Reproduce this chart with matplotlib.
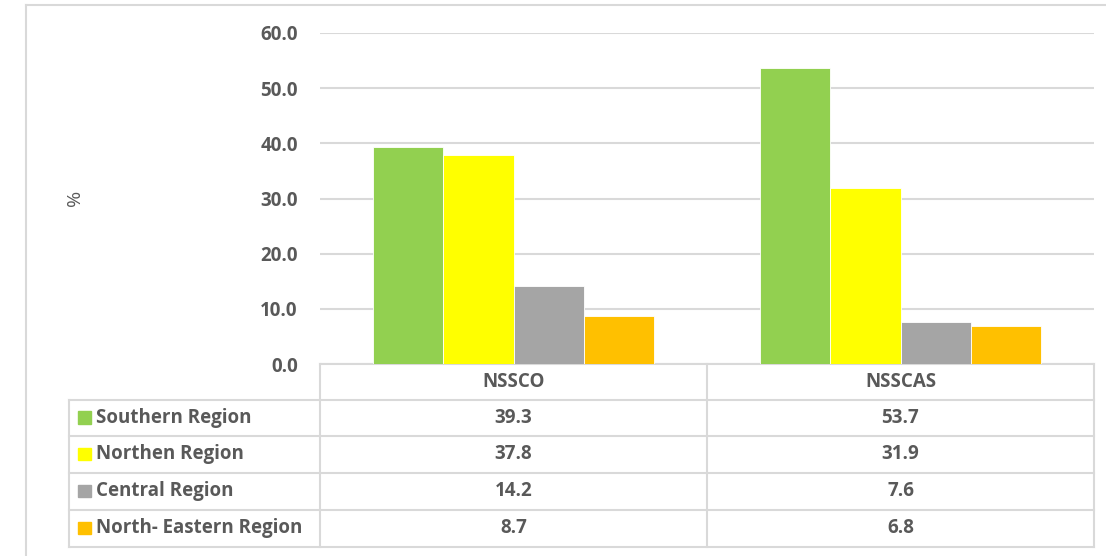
import numpy as np
import matplotlib.pyplot as plt

# data
exams = ["NSSCO", "NSSCAS"]
regions = ["Southern Region", "Northen Region", "Central Region", "North- Eastern Region"]
southern = [39.3, 53.7]
northern = [37.8, 31.9]
central = [14.2, 7.6]
north_eastern = [8.7, 6.8]
yticks = [0, 10, 20, 30, 40, 50, 60]

colors = ["#92D050", "#FFFF00", "#A5A5A5", "#FFC000"]
txt = "#595959"
grid = "#D9D9D9"
plt.rcParams["font.family"] = ["Open Sans", "DejaVu Sans"]
fs = 13.5

W, H = 1106, 556
fig = plt.figure(figsize=(W / 100, H / 100), dpi=100)

# overlay in pixel coordinates for the frame and the data table
bg = fig.add_axes([0, 0, 1, 1])
bg.set_xlim(0, W)
bg.set_ylim(H, 0)
bg.axis("off")

left, right, top, zero = 320, 1094, 33, 364
ax = fig.add_axes([left / W, 1 - zero / H, (right - left) / W, (zero - top) / H])

series = [southern, northern, central, north_eastern]
x = np.arange(len(exams))
w = 0.181
for i, vals in enumerate(series):
    ax.bar(x + (i - 1.5) * w, vals, w, color=colors[i], edgecolor="white",
           linewidth=0.6, zorder=3)

ax.set_xlim(-0.5, len(exams) - 0.5)
ax.set_ylim(0, 60)
ax.set_yticks(yticks)
ax.set_yticklabels([f"{v:.1f}" for v in yticks], fontsize=fs, fontweight="bold", color=txt)
ax.tick_params(axis="y", length=0, pad=16)
ax.set_xticks([])
ax.yaxis.grid(True, color=grid, linewidth=1.5, zorder=0)
for s in ax.spines.values():
    s.set_visible(False)
ax.set_facecolor("none")

# outer frame
bg.plot([26, 26], [5, H], color=grid, lw=1.5)
bg.plot([26, W], [5, 5], color=grid, lw=1.5)

bg.text(75, 198, "%", rotation=90, ha="center", va="center", fontsize=14, color=txt)

# data table
row_y = [364, 399.5, 436, 472.5, 509.5, 546.5]
col_x = [69, 320, 707, 1094]
lc = "#D9D9D9"
bg.plot([col_x[1], col_x[3]], [row_y[0], row_y[0]], color=lc, lw=1.5)
for y in row_y[1:]:
    bg.plot([col_x[0], col_x[3]], [y, y], color=lc, lw=1.5)
bg.plot([col_x[0], col_x[0]], [row_y[1], row_y[-1]], color=lc, lw=1.5)
for cx in col_x[1:]:
    bg.plot([cx, cx], [row_y[0], row_y[-1]], color=lc, lw=1.5)

for j, name in enumerate(exams):
    cx = (col_x[j + 1] + col_x[j + 2]) / 2
    bg.text(cx, (row_y[0] + row_y[1]) / 2, name, ha="center", va="center",
            fontsize=fs, fontweight="bold", color=txt)

for i, name in enumerate(regions):
    cy = (row_y[i + 1] + row_y[i + 2]) / 2
    bg.add_patch(plt.Rectangle((78, cy - 6.5), 12.5, 12.5, color=colors[i]))
    bg.text(96, cy, name, ha="left", va="center", fontsize=fs, fontweight="bold", color=txt)
    for j in range(len(exams)):
        cx = (col_x[j + 1] + col_x[j + 2]) / 2
        bg.text(cx, cy, f"{series[i][j]:.1f}", ha="center", va="center",
                fontsize=fs, fontweight="bold", color=txt)

fig.savefig("out.png", dpi=100)
